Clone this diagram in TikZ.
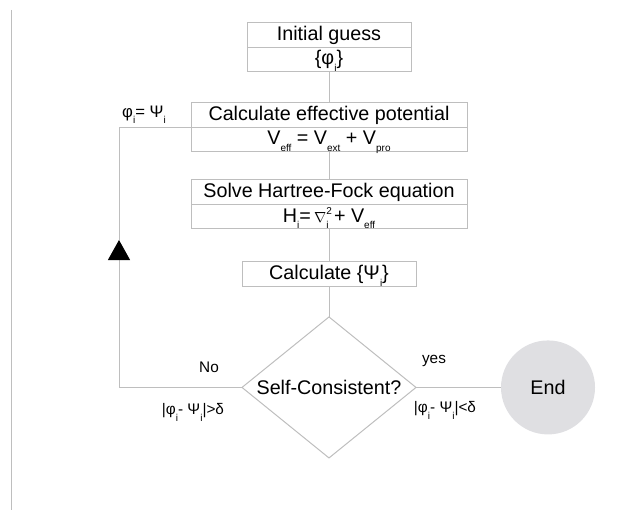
\documentclass[tikz,border=0pt]{standalone}
\usepackage{fontspec}
\setmainfont{Liberation Sans}
\usepackage{tikz}
\usetikzlibrary{arrows.meta,positioning,shapes.geometric}
\definecolor{lgray}  {RGB}{190,190,190}
\definecolor{endgray}{RGB}{223,223,226}
\newcommand\lowsub[1]{\smash{\raisebox{-4.8pt}{\fontsize{7.5}{8}\selectfont #1}}}
\tikzset{
  part/.style={draw=lgray,line width=0.75pt,inner sep=0pt,outer sep=0pt,
               minimum height=18.4pt,text height=11pt,text depth=3pt,
               font=\fontsize{14.8}{17}\selectfont},
  partw/.style={part,minimum width=207pt},
  test/.style={diamond,draw=lgray,line width=0.75pt,inner sep=0pt,outer sep=0pt,
               aspect=1.234,minimum width=130.5pt,minimum height=105.75pt,
               font=\fontsize{14.8}{17}\selectfont},
  stop/.style={circle,fill=endgray,inner sep=0pt,outer sep=0pt,minimum size=70.5pt,
               font=\fontsize{14.8}{17}\selectfont},
  conn/.style={draw=lgray,line width=0.75pt},
  lbl/.style={font=\fontsize{11.5}{13}\selectfont,inner sep=1pt},
}
\begin{document}
\begin{tikzpicture}[x=0.75pt,y=-0.75pt]
  \useasboundingbox (0,0) rectangle (623,513);
  \draw[lgray,line width=0.75pt] (11,10) -- (11,510);

  \node[part,minimum width=123pt] (IG) at (329,35) {Initial guess};
  \node[part,minimum width=123pt,below=0pt of IG] (IGs) {\{φ\lowsub{i}\}};
  \node[partw,below=23.25pt of IGs] (CP)  {Calculate effective potential};
  \node[partw,below=0pt of CP] (CPs) {V\lowsub{eff} = V\lowsub{ext} + V\lowsub{pro}};
  \node[partw,below=21pt of CPs] (HF)  {Solve Hartree-Fock equation};
  \node[partw,below=0pt of HF] (HFs)
    {H\lowsub{i}=\,{\fontsize{11}{11}\selectfont$\nabla$}\rlap{\raisebox{6pt}{\fontsize{7.5}{8}\selectfont 2}}\lowsub{i} + V\lowsub{eff}};
  \node[part,minimum width=130.5pt,minimum height=18.75pt,below=24.75pt of HFs] (CW)
    {Calculate \{Ψ\lowsub{i}\}};
  \node[test,below=22.5pt of CW] (SC) {Self-Consistent?};
  \node[stop,right=63.75pt of SC] (EN) {End};
  \coordinate (TIP) at (119,240);

  \draw[conn] (IGs) -- (CP);
  \draw[conn] (CPs) -- (HF);
  \draw[conn] (HFs) -- (CW);
  \draw[conn] (CW) -- (SC);
  \draw[conn] (SC) -- (EN);
  \draw[conn,-{Triangle[length=15pt,width=16.5pt,black]}] (SC.west) -| (TIP);
  \draw[conn] (TIP) |- (CP.south west);

  \node[lbl,font=\fontsize{12.5}{14}\selectfont] (SW) at (144,113) {φ\lowsub{i}= Ψ\lowsub{i}};
  \node[lbl] (NO)  at (209,367) {No};
  \node[lbl] (GT)  at (193,411) {|φ\lowsub{i}- Ψ\lowsub{i}|>δ};
  \node[lbl] (YES) at (434,361) {yes};
  \node[lbl] (LT)  at (445,409) {|φ\lowsub{i}- Ψ\lowsub{i}|<δ};
\end{tikzpicture}
\end{document}
